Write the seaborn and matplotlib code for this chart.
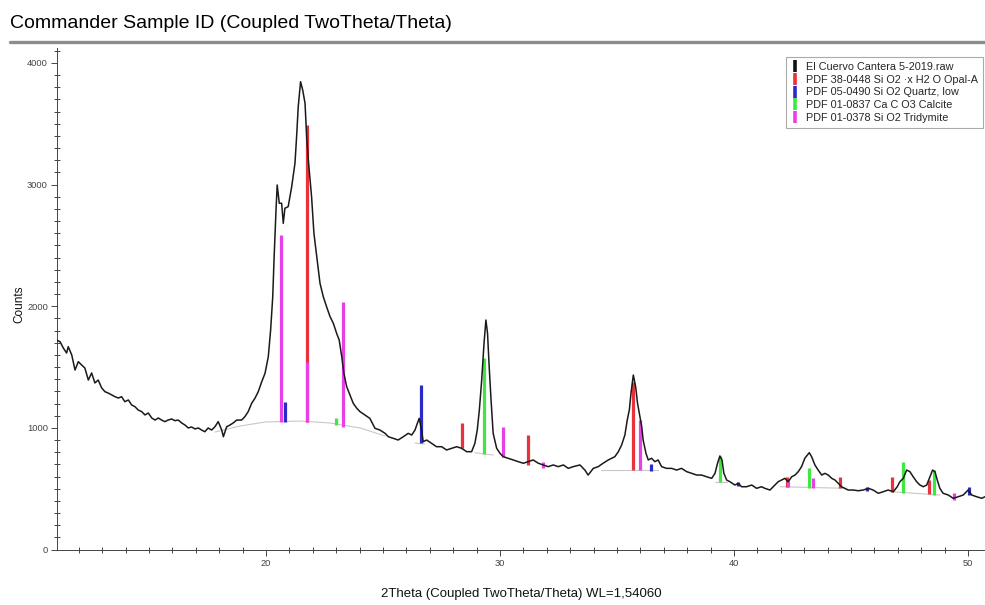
import matplotlib
matplotlib.use("Agg")
import matplotlib.pyplot as plt
import matplotlib.ticker as mticker
from matplotlib.lines import Line2D
import numpy as np
import pandas as pd
import seaborn as sns

two_theta = [11.07, 11.20, 11.34, 11.48, 11.55, 11.70, 11.84, 11.98, 12.12, 12.26, 12.41,
             12.55, 12.69, 12.83, 12.98, 13.12, 13.26, 13.41, 13.55, 13.69, 13.83, 13.97,
             14.12, 14.26, 14.40, 14.54, 14.69, 14.83, 14.97, 15.12, 15.26, 15.40, 15.54,
             15.68, 15.82, 15.97, 16.11, 16.25, 16.40, 16.54, 16.68, 16.82, 16.97, 17.11,
             17.25, 17.39, 17.53, 17.68, 17.82, 17.96, 18.11, 18.18, 18.32, 18.46, 18.60,
             18.75, 18.96, 19.10, 19.24, 19.39, 19.53, 19.67, 19.82, 19.96, 20.10, 20.20,
             20.29, 20.35, 20.43, 20.48, 20.57, 20.67, 20.74, 20.81, 20.95, 21.10, 21.24,
             21.31, 21.38, 21.48, 21.57, 21.67, 21.74, 21.81, 21.95, 22.05, 22.17, 22.31,
             22.45, 22.59, 22.74, 22.88, 23.02, 23.13, 23.24, 23.33, 23.45, 23.59, 23.73,
             23.88, 24.02, 24.23, 24.44, 24.66, 24.87, 25.09, 25.23, 25.44, 25.65, 25.87,
             26.08, 26.23, 26.37, 26.47, 26.55, 26.65, 26.72, 26.87, 27.08, 27.29, 27.51,
             27.72, 27.94, 28.15, 28.36, 28.58, 28.79, 28.93, 29.03, 29.12, 29.22, 29.32,
             29.40, 29.47, 29.54, 29.62, 29.71, 29.86, 30.00, 30.14, 30.35, 30.57, 30.78,
             31.00, 31.21, 31.42, 31.64, 31.85, 32.06, 32.28, 32.49, 32.71, 32.92, 33.13,
             33.42, 33.63, 33.77, 33.99, 34.20, 34.41, 34.63, 34.77, 34.91, 35.06, 35.20,
             35.34, 35.44, 35.53, 35.60, 35.70, 35.80, 35.88, 35.98, 36.06, 36.12, 36.24,
             36.34, 36.48, 36.62, 36.76, 36.91, 37.12, 37.34, 37.55, 37.76, 37.98, 38.19,
             38.41, 38.62, 38.83, 39.05, 39.19, 39.30, 39.40, 39.49, 39.57, 39.69, 39.83,
             40.04, 40.18, 40.33, 40.54, 40.76, 40.97, 41.18, 41.32, 41.54, 41.75, 41.89,
             42.04, 42.18, 42.32, 42.47, 42.61, 42.75, 42.89, 43.03, 43.22, 43.32, 43.46,
             43.60, 43.75, 43.89, 44.03, 44.18, 44.32, 44.46, 44.60, 44.74, 44.88, 45.10,
             45.31, 45.53, 45.74, 45.95, 46.17, 46.38, 46.59, 46.81, 46.98, 47.09, 47.24,
             47.38, 47.52, 47.66, 47.81, 47.95, 48.09, 48.24, 48.38, 48.49, 48.59, 48.69,
             48.80, 48.94, 49.16, 49.37, 49.59, 49.80, 50.01, 50.16, 50.37, 50.59, 50.73]
counts = [1720, 1708, 1656, 1615, 1667, 1599, 1475, 1544, 1517, 1492, 1393,
          1451, 1369, 1393, 1328, 1297, 1286, 1270, 1256, 1245, 1256, 1215,
          1229, 1188, 1174, 1147, 1133, 1106, 1122, 1081, 1064, 1081, 1064,
          1051, 1064, 1073, 1059, 1064, 1040, 1023, 999, 1007, 991, 999,
          982, 968, 999, 982, 1009, 1051, 982, 927, 1009, 1023, 1040,
          1064, 1064, 1092, 1133, 1202, 1243, 1297, 1379, 1448, 1585, 1804,
          2078, 2407, 2791, 2996, 2846, 2846, 2681, 2805, 2818, 2982, 3175,
          3393, 3640, 3845, 3777, 3668, 3393, 3202, 2900, 2599, 2407, 2188,
          2078, 1996, 1914, 1859, 1777, 1722, 1585, 1448, 1338, 1270, 1202,
          1161, 1133, 1106, 1078, 996, 982, 955, 927, 914, 900, 927,
          955, 941, 982, 1037, 1078, 982, 886, 900, 873, 845, 845,
          818, 832, 845, 832, 804, 804, 873, 982, 1147, 1393, 1695,
          1886, 1777, 1503, 1229, 955, 832, 791, 763, 750, 736, 722,
          709, 722, 736, 709, 695, 681, 695, 681, 695, 667, 681,
          695, 653, 612, 667, 681, 709, 736, 750, 763, 804, 859,
          941, 1064, 1147, 1284, 1434, 1338, 1202, 1092, 1009, 900, 791,
          736, 750, 722, 736, 681, 667, 667, 653, 667, 640, 626,
          612, 612, 598, 585, 626, 709, 769, 736, 626, 571, 557,
          530, 544, 516, 516, 530, 503, 516, 503, 489, 530, 557,
          571, 585, 557, 598, 612, 640, 681, 750, 796, 763, 695,
          653, 612, 626, 612, 585, 571, 544, 516, 503, 489, 489,
          483, 489, 503, 489, 462, 475, 489, 475, 516, 557, 585,
          653, 640, 598, 557, 530, 516, 530, 598, 653, 640, 571,
          503, 462, 448, 421, 434, 448, 489, 448, 434, 421, 434]

#########  REFERENCE PATTERN STICKS (position, top, base)  #########
opal_pos = [21.76, 28.36, 31.18, 35.70, 42.27, 44.53, 46.77, 48.35]
opal_top = [3489, 1037, 941, 1380, 598, 598, 598, 571]
opal_base = [1050, 832, 695, 653, 516, 503, 475, 456]

quartz_pos = [20.81, 26.61, 36.45, 40.18, 45.70, 50.04]
quartz_top = [1215, 1352, 703, 557, 516, 516]
quartz_base = [1050, 873, 648, 522, 483, 448]

calcite_pos = [22.99, 29.33, 39.40, 43.21, 47.24, 48.55]
calcite_top = [1078, 1572, 769, 667, 722, 653]
calcite_base = [1023, 785, 557, 503, 467, 448]

tridy_pos = [20.63, 21.76, 23.30, 30.11, 31.85, 35.98, 42.32, 43.40, 49.40]
tridy_top = [2585, 1544, 2037, 1009, 722, 1064, 563, 585, 462]
tridy_base = [1050, 1050, 1009, 763, 667, 653, 516, 503, 407]

# background segments under the peaks
bg_segments = [
    ([17.82, 18.89, 19.96, 21.45, 22.74, 24.02, 25.09], [966, 1015, 1048, 1056, 1040, 999, 933]),
    ([26.37, 26.79], [875, 867]),
    ([28.93, 29.71], [796, 777]),
    ([34.34, 36.76], [653, 653]),
    ([39.19, 39.69], [557, 557]),
    ([41.97, 44.82], [516, 503]),
    ([46.74, 48.80], [475, 448]),
]

legend_labels = ["El Cuervo Cantera 5-2019.raw",
                 "PDF 38-0448 Si O2 \u00b7x H2 O Opal-A",
                 "PDF 05-0490 Si O2 Quartz, low",
                 "PDF 01-0837 Ca C O3 Calcite",
                 "PDF 01-0378 Si O2 Tridymite"]
colors = ["#111111", "#e8323c", "#2a2ac8", "#3ee83e", "#e840e8"]

sns.set_style("ticks")
plt.rcParams['font.family'] = ['Liberation Sans', 'DejaVu Sans']

fig = plt.figure(figsize=(9.85, 6.05), dpi=100)
ax = fig.add_axes([57/985, 1-550/605, 1-57/985, (550-48)/605])

# title and rule under it
fig.text(10/985, 1-23/605, "Commander Sample ID (Coupled TwoTheta/Theta)",
         fontsize=14, va='center', ha='left', color='#000000')
fig.add_artist(Line2D([10/985, 1.0], [1-42/605, 1-42/605], transform=fig.transFigure,
                      color='#8c8c8c', lw=2.4))

for tt, cc in bg_segments:
    ax.plot(tt, cc, color='#c8c8c8', lw=0.8, zorder=1)

ax.vlines(opal_pos, opal_base, opal_top, color=colors[1], lw=2.3, zorder=2)
ax.vlines(quartz_pos, quartz_base, quartz_top, color=colors[2], lw=2.3, zorder=2)
ax.vlines(calcite_pos, calcite_base, calcite_top, color=colors[3], lw=2.3, zorder=2)
ax.vlines(tridy_pos, tridy_base, tridy_top, color=colors[4], lw=2.3, zorder=2)

df = pd.DataFrame({'2Theta': two_theta, 'Counts': counts})
sns.lineplot(data=df, x='2Theta', y='Counts', color='#1a1a1a', lw=1.1,
             sort=False, estimator=None, ax=ax, zorder=3)

ax.set_xlim(11.07, 50.73)
ax.set_ylim(-4, 4122)
ax.xaxis.set_major_locator(mticker.MultipleLocator(10))
ax.xaxis.set_minor_locator(mticker.MultipleLocator(1))
ax.yaxis.set_major_locator(mticker.MultipleLocator(1000))
ax.yaxis.set_minor_locator(mticker.MultipleLocator(100))
ax.tick_params(which='major', direction='out', length=4.5, width=0.7, colors='#444444',
               labelsize=6.7, pad=2)
ax.tick_params(which='minor', direction='inout', length=4, width=0.7, color='#444444')
for side in ['top', 'right']:
    ax.spines[side].set_visible(False)
for side in ['left', 'bottom']:
    ax.spines[side].set_color('#444444')
    ax.spines[side].set_linewidth(0.7)

ax.set_xlabel("2Theta (Coupled TwoTheta/Theta) WL=1,54060", fontsize=9.5, color='#111111')
ax.set_ylabel("Counts", fontsize=8.5, color='#111111')
ax.xaxis.set_label_coords(0.5, (550-588)/502)
ax.yaxis.set_label_coords((25-57)/928, 0.49)

handles = [Line2D([], [], color=c, marker='|', linestyle='none', markersize=8,
                  markeredgewidth=2.6) for c in colors]
leg = ax.legend(handles, legend_labels, loc='upper right',
                bbox_to_anchor=(983/985, 1-57/605), bbox_transform=fig.transFigure,
                fontsize=7.8, frameon=True, fancybox=False, borderaxespad=0,
                handlelength=0.8, handletextpad=0.6, labelspacing=0.25,
                borderpad=0.45, framealpha=1)
leg.get_frame().set_edgecolor('#aaaaaa')
leg.get_frame().set_linewidth(0.8)

fig.savefig("out.png", dpi=100)
